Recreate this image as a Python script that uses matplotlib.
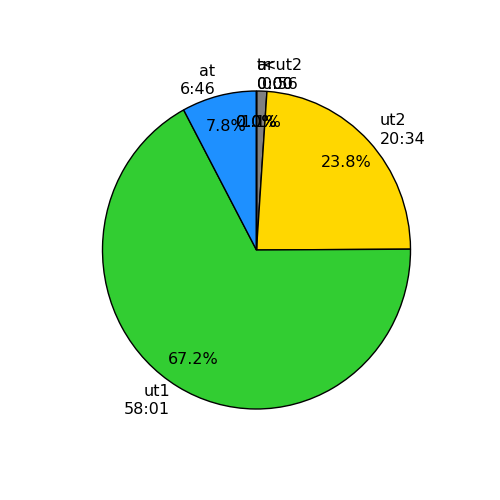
import matplotlib as mpl
mpl.use('Agg')
import matplotlib.pyplot as plt

names = ["<ut2", "ut2", "ut1", "at", "ar", "tr"]
times = ["0:56", "20:34", "58:01", "6:46", "0:00", "0:00"]
minutes = [56, 1234, 3481, 406, 0, 0]
colors = ["grey", "gold", "limegreen", "dodgerblue", "orangered", "darkorchid"]

labels = ["{n}\n{t}".format(n=n, t=t) for n, t in zip(names, times)]

fig = plt.figure(figsize=(5, 5), dpi=100)
ax = fig.add_axes([0.128, 0.1025, 0.77, 0.795])
ax.pie(minutes, labels=labels, colors=colors, autopct="%1.1f%%",
       startangle=90, counterclock=False, pctdistance=0.8,
       wedgeprops={"edgecolor": "k", "linewidth": 1},
       textprops={"fontsize": 11.5, "linespacing": 1.3})
# reference is slightly stretched vertically
ax.set_aspect('auto')
ax.set_xlim(-1.25, 1.25)
ax.set_ylim(-1.25, 1.25)
fig.savefig("out.png")
